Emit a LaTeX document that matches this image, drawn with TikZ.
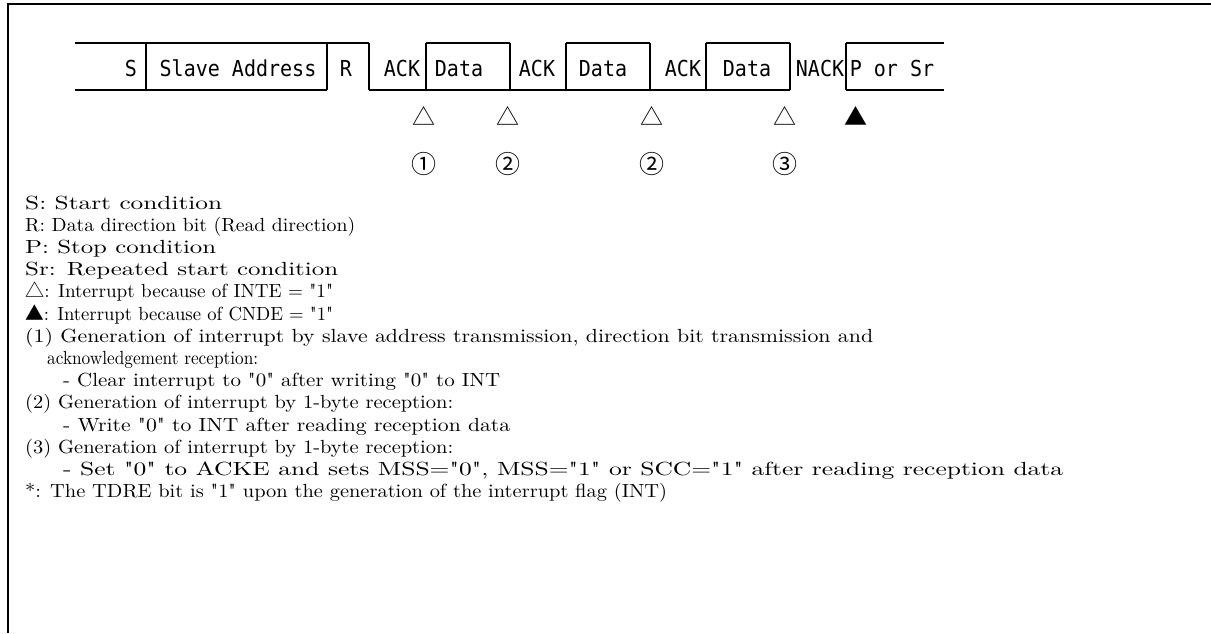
\documentclass[tikz,border=0pt]{standalone}
\usepackage{graphicx}
\usepackage{fontspec}
\newfontfamily\gothic{DejaVu Sans Mono}[FakeStretch=0.91]
\newfontfamily\cjk{Noto Sans CJK JP}
\newfontfamily\legendfont{lmroman10-regular.otf}[Ligatures=TeXOff]
\newsavebox\fitbox
\newcommand\fitline[2]{\sbox\fitbox{#2}\pgfmathsetmacro\fitsx{#1/\the\wd\fitbox}\scalebox{\fitsx}[1]{\usebox\fitbox}}
\begin{document}
\begin{tikzpicture}[x=1pt,y=1pt,
  wave/.style={line width=1.2pt},
  frame/.style={line width=1.6pt},
  lbl/.style={font=\gothic\fontsize{22}{24}\selectfont, anchor=base, inner sep=0pt},
  intmark/.style={font=\cjk\fontsize{23}{24}\selectfont, inner sep=0pt},
  circ/.style={font=\cjk\fontsize{25}{26}\selectfont, inner sep=0pt},
  legend/.style={font=\legendfont\fontsize{19}{22}\selectfont, anchor=base west, inner sep=0pt}]
\useasboundingbox (0,0) rectangle (1211,-633);
% outer frame
\draw[frame] (8,-633) -- (8,-4) -- (1211,-4);
% waveform
\draw[wave] (75,-43) -- (369,-43);
\draw[wave] (426,-43) -- (510,-43);
\draw[wave] (566,-43) -- (650,-43);
\draw[wave] (706,-43) -- (790,-43);
\draw[wave] (846,-43) -- (944,-43);
\draw[wave] (75,-90) -- (327,-90);
\draw[wave] (369,-90) -- (790,-90);
\draw[wave] (846,-90) -- (944,-90);
\foreach \x in {146,327,369,426,510,566,650,706,790,846}
  \draw[wave] (\x,-43) -- (\x,-90);
% field labels
\node[lbl] (fS) at (131,-76) {S};
\node[lbl] (fSA) at (238,-76) {Slave Address};
\node[lbl] (fR) at (346,-76) {R};
\node[lbl] (fA1) at (402,-76) {ACK};
\node[lbl] (fD1) at (459,-76) {Data};
\node[lbl] (fA2) at (537,-76) {ACK};
\node[lbl] (fD2) at (603,-76) {Data};
\node[lbl] (fA3) at (683,-76) {ACK};
\node[lbl] (fD3) at (747,-76) {Data};
\node[lbl] (fN) at (820,-76) {NACK};
\node[lbl] (fP) at (892,-76) {P or Sr};
% interrupt marks
\node[intmark] (t1) at (424,-116) {△};
\node[intmark] (t2) at (508,-116) {△};
\node[intmark] (t3) at (652,-116) {△};
\node[intmark] (t4) at (785,-116) {△};
\node[intmark] (t5) at (856,-116) {▲};
\node[circ] (c1) at (424,-164) {①};
\node[circ] (c2) at (508,-164) {②};
\node[circ] (c3) at (652,-164) {②};
\node[circ] (c4) at (785,-164) {③};
% legend
\def\lh{22.2}
\node[legend] (l0) at (25,-209) {\fitline{197}{S: Start condition}};
\node[legend] (l1) at (25,-209-1*\lh) {\fitline{330}{R: Data direction bit (Read direction)}};
\node[legend] (l2) at (25,-209-2*\lh) {\fitline{191}{P: Stop condition}};
\node[legend] (l3) at (25,-209-3*\lh) {\fitline{313}{Sr: Repeated start condition}};
\node[legend] (l4) at (25,-209-4*\lh) {\fitline{308}{{\cjk △}: Interrupt because of INTE = "1"}};
\node[legend] (l5) at (25,-209-5*\lh) {\fitline{308}{{\cjk ▲}: Interrupt because of CNDE = "1"}};
\node[legend] (l6) at (25,-209-6*\lh) {\fitline{848}{(1) Generation of interrupt by slave address transmission, direction bit transmission and}};
\node[legend] (l7) at (47,-209-7*\lh) {\fitline{211}{acknowledgement reception:}};
\node[legend] (l8) at (63,-209-8*\lh) {\fitline{437}{- Clear interrupt to "0" after writing "0" to INT}};
\node[legend] (l9) at (25,-209-9*\lh) {\fitline{428}{(2) Generation of interrupt by 1-byte reception:}};
\node[legend] (l10) at (63,-209-10*\lh) {\fitline{447}{- Write "0" to INT after reading reception data}};
\node[legend] (l11) at (25,-209-11*\lh) {\fitline{428}{(3) Generation of interrupt by 1-byte reception:}};
\node[legend] (l12) at (63,-209-12*\lh) {\fitline{1000}{- Set "0" to ACKE and sets MSS="0", MSS="1" or SCC="1" after reading reception data}};
\node[legend] (l13) at (25,-209-13*\lh) {\fitline{642}{*: The TDRE bit is "1" upon the generation of the interrupt flag (INT)}};
\end{tikzpicture}
\end{document}
